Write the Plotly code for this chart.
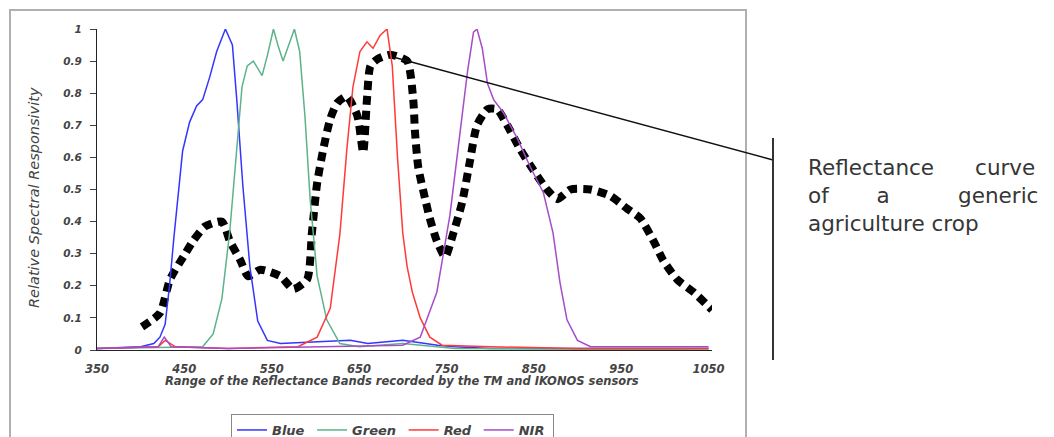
import plotly.graph_objects as go

# ---------------- data ----------------
blue_nm = [350, 380, 400, 415, 422, 428, 433, 438, 443, 448, 456, 464, 471, 479, 487, 497, 505, 510, 517, 525, 534, 545, 560, 600, 640, 660, 700, 740, 760, 800, 1050]
blue_val = [0.005, 0.008, 0.01, 0.02, 0.04, 0.08, 0.2, 0.35, 0.49, 0.62, 0.71, 0.76, 0.78, 0.85, 0.93, 1.0, 0.95, 0.78, 0.51, 0.26, 0.09, 0.03, 0.02, 0.025, 0.03, 0.02, 0.03, 0.015, 0.01, 0.005, 0.005]

green_nm = [350, 450, 471, 483, 493, 502, 510, 516, 522, 529, 539, 545, 552, 557, 563, 571, 576, 582, 588, 594, 602, 613, 628, 650, 700, 760, 1050]
green_val = [0.005, 0.01, 0.01, 0.05, 0.16, 0.37, 0.625, 0.82, 0.885, 0.9, 0.855, 0.917, 1.0, 0.95, 0.9, 0.96, 1.0, 0.93, 0.73, 0.47, 0.23, 0.094, 0.02, 0.01, 0.02, 0.005, 0.0]

red_nm = [350, 420, 428, 440, 500, 580, 602, 617, 628, 636, 643, 651, 659, 666, 674, 682, 688, 694, 700, 705, 711, 720, 731, 745, 800, 900, 1050]
red_val = [0.005, 0.01, 0.03, 0.01, 0.005, 0.01, 0.04, 0.13, 0.36, 0.625, 0.82, 0.93, 0.96, 0.94, 0.98, 1.0, 0.885, 0.60, 0.365, 0.26, 0.18, 0.10, 0.04, 0.015, 0.01, 0.005, 0.005]

nir_nm = [350, 420, 427, 435, 500, 600, 700, 720, 739, 754, 766, 774, 781, 785, 791, 797, 804, 815, 831, 846, 861, 872, 880, 888, 900, 915, 1050]
nir_val = [0.005, 0.01, 0.04, 0.01, 0.005, 0.01, 0.015, 0.04, 0.18, 0.42, 0.68, 0.865, 0.99, 1.0, 0.94, 0.83, 0.78, 0.74, 0.66, 0.57, 0.49, 0.365, 0.21, 0.094, 0.03, 0.01, 0.01]

crop_nm = [401.5, 422, 433.6, 451, 460, 473.7, 493, 502, 514, 523, 537, 560, 574.5, 590.5, 596, 602, 609, 617, 625, 636, 648, 654.7, 659, 663, 671, 685.6, 705, 712, 714, 717.7, 725.7, 731, 739, 748.6, 758, 768, 777, 785, 797, 808, 819.6, 834.5, 849, 865, 877, 892, 915, 937.6, 957, 972, 987, 998, 1014, 1033, 1054]
crop_val = [0.072, 0.115, 0.22, 0.30, 0.34, 0.385, 0.40, 0.34, 0.28, 0.23, 0.25, 0.23, 0.19, 0.22, 0.365, 0.52, 0.625, 0.72, 0.77, 0.79, 0.73, 0.615, 0.78, 0.885, 0.906, 0.92, 0.90, 0.78, 0.68, 0.57, 0.47, 0.41, 0.34, 0.29, 0.365, 0.46, 0.59, 0.70, 0.75, 0.75, 0.70, 0.625, 0.5625, 0.50, 0.47, 0.50, 0.50, 0.48, 0.44, 0.41, 0.34, 0.28, 0.22, 0.18, 0.125]

x_ticks = [350, 450, 550, 650, 750, 850, 950, 1050]
y_ticks = [0, 0.1, 0.2, 0.3, 0.4, 0.5, 0.6, 0.7, 0.8, 0.9, 1]
y_ticklabels = ["0", "0.1", "0.2", "0.3", "0.4", "0.5", "0.6", "0.7", "0.8", "0.9", "1"]

band_names = ["Blue", "Green", "Red", "NIR"]
band_colors = ["#3535ff", "#5cb38a", "#ff3a3a", "#a64cc6"]

x_title = "Range of the Reflectance Bands recorded by the TM and IKONOS sensors"
y_title = "Relative Spectral Responsivity"
note_lines = [("Reflectance", 6, "curve"), ("of", 7, "a", 10, "generic"), ("agriculture crop",)]

FONT = "Liberation Sans, Arial, sans-serif"
SMALL = "DejaVu Sans, sans-serif"

fig = go.Figure()

# crop reflectance curve (thick dotted)
fig.add_trace(go.Scatter(
    x=crop_nm, y=crop_val, mode="lines", showlegend=False,
    line=dict(color="black", width=8, dash="9px,6px", shape="spline", smoothing=0.6),
    hoverinfo="skip",
))

for name, xs, ys, col in zip(band_names,
                             [blue_nm, green_nm, red_nm, nir_nm],
                             [blue_val, green_val, red_val, nir_val],
                             band_colors):
    fig.add_trace(go.Scatter(x=xs, y=ys, mode="lines", name=name + "&#8201;",
                             line=dict(color=col, width=1.5)))

# the page body has an 8px margin, so the figure is drawn 8px smaller
OFF = 8
W, H = 1054 - OFF, 437 - OFF
L, T = 97 - OFF, 29 - OFF
R = W - (712 - OFF)
B = H - (350 - OFF)
pw = W - L - R
ph = H - T - B


def px(xr):  # reference page pixel -> paper x
    return (xr - OFF - L) / pw


def py(yr):  # reference page pixel -> paper y
    return (H - B - (yr - OFF)) / ph


fig.update_layout(
    width=W, height=H,
    margin=dict(l=L, r=R, t=T, b=B, autoexpand=False),
    paper_bgcolor="white", plot_bgcolor="white",
    font=dict(family=FONT, color="#333333"),
    xaxis=dict(range=[350, 1054], tickvals=x_ticks, showgrid=False, zeroline=False,
               showline=True, linecolor="#222222", linewidth=1.2, ticks="",
               tickfont=dict(family=SMALL, size=11.5, style="italic", weight="bold", color="#444444"),
               ticklabelstandoff=8),
    yaxis=dict(range=[0, 1], tickvals=y_ticks, ticktext=y_ticklabels, showgrid=False, zeroline=False,
               showline=True, linecolor="#222222", linewidth=1.2, ticks="outside", ticklen=6,
               tickcolor="#444444",
               tickfont=dict(family=SMALL, size=10.5, style="italic", weight="bold", color="#444444"),
               ticklabelstandoff=6),
    legend=dict(orientation="h", x=px(231), y=py(414), xanchor="left", yanchor="top",
                bordercolor="#888888", borderwidth=1, bgcolor="white",
                font=dict(family=SMALL, size=13, style="italic", weight="bold", color="#444444"),
                itemwidth=30, tracegroupgap=0),
    showlegend=True,
)

# axis titles
fig.add_annotation(xref="paper", yref="paper", x=px(402), y=py(381), text=x_title,
                   showarrow=False, xanchor="center", yanchor="middle",
                   font=dict(family=SMALL, size=11.5, style="italic", weight="bold", color="#444444"))
fig.add_annotation(xref="paper", yref="paper", x=px(34), y=py(198), text=y_title,
                   showarrow=False, textangle=-90, xanchor="center", yanchor="middle",
                   font=dict(family=SMALL, size=14.5, style="italic", color="#444444"))

# outer chart frame
fig.add_shape(type="rect", xref="paper", yref="paper", x0=px(10), x1=px(746), y0=py(445), y1=py(10),
              line=dict(color="#b0b0b0", width=2), fillcolor="rgba(0,0,0,0)", layer="below")

# pointer line and vertical bracket
fig.add_shape(type="line", xref="paper", yref="paper", x0=px(393), y0=py(57), x1=px(773), y1=py(160),
              line=dict(color="#111111", width=1.5))
fig.add_shape(type="line", xref="paper", yref="paper", x0=px(773), y0=py(138), x1=px(773), y1=py(360),
              line=dict(color="#333333", width=2))

# justified description text (one block, words spread with non-breaking spaces)
rendered = []
for parts in note_lines:
    s = ""
    for p in parts:
        s += "&nbsp;" * p if isinstance(p, int) else p
    rendered.append(s)
fig.add_annotation(xref="paper", yref="paper", x=px(806), y=py(195), text="<br>".join(rendered),
                   showarrow=False, xanchor="left", yanchor="middle", align="left",
                   font=dict(family="DejaVu Sans, sans-serif", size=21.5, color="#363636"))

fig.write_html("out.html")
